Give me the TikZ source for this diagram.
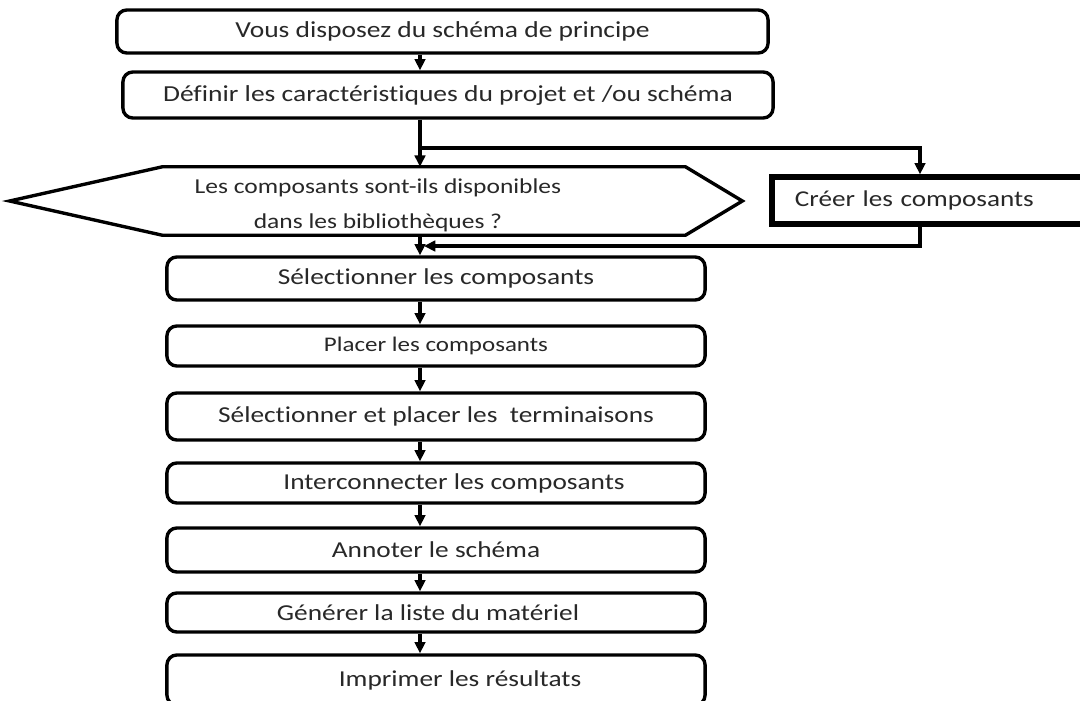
\documentclass[tikz,border=0pt]{standalone}
\usepackage{fontspec}
\setmainfont{Carlito}[FakeStretch=1.2, Ligatures={NoCommon}]
\usepackage{tikz}
\usetikzlibrary{arrows.meta, positioning}
\definecolor{Texte}{RGB}{40, 40, 40}

\begin{document}
\begin{tikzpicture}[
        x=0.025cm, y=-0.025cm,
        haut/.style={
            rectangle,
            draw=black,
            rounded corners=7pt,
            line width=2.4pt,
            minimum width=16.25cm,
            inner sep=0pt,
            text=Texte,
            font=\fontsize{16.3}{19}\selectfont
        },
        etape/.style={
            rectangle,
            draw=black,
            rounded corners=7pt,
            line width=2.4pt,
            minimum width=13.45cm,
            inner sep=0pt,
            text=Texte,
            font=\fontsize{16.2}{19}\selectfont
        },
        corps/.style={
            rectangle,
            draw=none,
            inner sep=0pt,
            minimum width=13.05cm,
            minimum height=1.7cm
        },
        hexa/.style={
            draw=black,
            line width=2.4pt
        },
        creation/.style={
            rectangle,
            draw=black,
            line width=3.8pt,
            inner xsep=0.575cm,
            inner ysep=0pt,
            text width=6.8cm,
            minimum height=1.175cm,
            align=left,
            text=Texte,
            font=\fontsize{16.1}{19}\selectfont
        },
        fleche/.style={
            draw=black,
            line width=2.4pt,
            -{Triangle[length=8pt,width=7.5pt]}
        },
        branche/.style={
            draw=black,
            line width=3.4pt,
            -{Triangle[length=8pt,width=7.5pt]}
        }
    ]
        \useasboundingbox (0,0) rectangle (1080,700);
        \clip (0,0) rectangle (1080,700);
        \fill[white] (0,0) rectangle (1080,700);

        % Columns of the connectors
        \coordinate (col) at (420,0);
        \coordinate (rcol) at (920,0);
        \coordinate (split) at (420,148);
        \coordinate (merge) at (424,246);

        % Top boxes
        \node[haut, minimum width=16.275cm, minimum height=1.075cm] (vous) at (442.5,31.5) {Vous disposez du schéma de principe};
        \node[haut, minimum height=1.15cm] (definir) at (448,95) {Définir les caractéristiques du projet et /ou schéma};

        % Decision (hexagon) and creation box
        \node[corps] (dispo) at (424,201) {};
        \draw[hexa] (dispo.north west) -- (dispo.north east) -- ([xshift=1.425cm]dispo.east) -- (dispo.south east) -- (dispo.south west) -- ([xshift=-3.825cm]dispo.west) -- cycle;
        \node[align=center, text=Texte, font=\fontsize{15.1}{25}\selectfont] (dispotxt) at (378,205) {Les composants sont-ils disponibles\\dans les bibliothèques ?};
        \node[creation] (creer) at (931,200.5) {Créer les composants};

        % Steps
        \node[etape, minimum height=1.075cm] (sel) at (436,278.5) {Sélectionner les composants};
        \node[etape, minimum height=1.0cm, font=\fontsize{14.8}{18}\selectfont] (placer) at (436,346) {Placer les composants};
        \node[etape, minimum height=1.175cm] (termin) at (436,416.5) {Sélectionner et placer les\ \ terminaisons};
        \node[etape, minimum height=1.0cm] (inter) at (436,483) {\hspace*{0.9cm}Interconnecter les composants};
        \node[etape, minimum height=1.1cm] (annot) at (436,550) {Annoter le schéma};
        \node[etape, minimum height=0.975cm] (gener) at (436,612.5) {Générer la liste du matériel\hspace*{0.4cm}};
        \node[etape, minimum height=1.25cm] (impr) at (436,680) {\hspace*{1.2cm}Imprimer les résultats};

        % Connections
        \draw[fleche] (vous.south -| col) -- (definir.north -| col);
        \draw[fleche] (definir.south -| col) -- (dispo.north -| col);
        \draw[branche] (split) -| (creer.north -| rcol);
        \draw[branche] (creer.south -| rcol) |- (merge);
        \draw[fleche] (dispo.south -| col) -- (sel.north -| col);
        \draw[fleche] (sel.south -| col) -- (placer.north -| col);
        \draw[fleche] (placer.south -| col) -- (termin.north -| col);
        \draw[fleche] (termin.south -| col) -- (inter.north -| col);
        \draw[fleche] (inter.south -| col) -- (annot.north -| col);
        \draw[fleche] (annot.south -| col) -- (gener.north -| col);
        \draw[fleche] (gener.south -| col) -- (impr.north -| col);

    \end{tikzpicture}
\end{document}
